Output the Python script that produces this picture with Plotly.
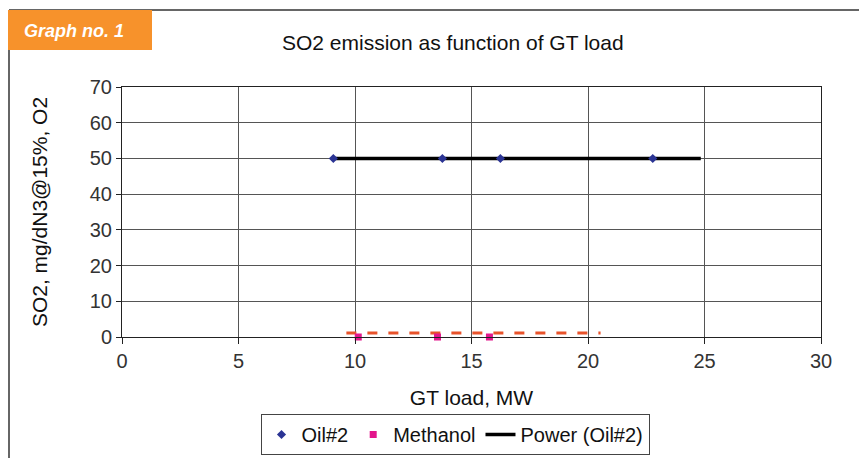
import plotly.graph_objects as go

# Data
oil_x = [9.07, 13.75, 16.24, 22.78]
oil_y = [50, 50, 50, 50]
meth_x = [10.14, 13.54, 15.77]
meth_y = [0, 0, 0]
power_x = [9.07, 24.84]
power_y = [50, 50]
meth_trend_x = [9.63, 20.54]
meth_trend_y = [1.1, 1.1]

x_ticks = [0, 5, 10, 15, 20, 25, 30]
y_ticks = [0, 10, 20, 30, 40, 50, 60, 70]

OFF = 8  # page body margin offset
W, H = 867 - OFF, 458 - OFF
FONT = "Liberation Sans, Arial, Helvetica, sans-serif"
FS = 20

fig = go.Figure()
fig.add_trace(go.Scatter(x=meth_trend_x, y=meth_trend_y, mode="lines",
                         line=dict(color="#e8532b", width=3, dash="10px,11px"),
                         showlegend=False, hoverinfo="skip"))
fig.add_trace(go.Scatter(x=power_x, y=power_y, mode="lines", name="Power (Oil#2)",
                         legendrank=3, line=dict(color="black", width=3.5)))
fig.add_trace(go.Scatter(x=oil_x, y=oil_y, mode="markers", name="Oil#2", legendrank=1,
                         marker=dict(symbol="diamond", color="#2b3494", size=7)))
fig.add_trace(go.Scatter(x=meth_x, y=meth_y, mode="markers", name="Methanol", legendrank=2,
                         cliponaxis=False,
                         marker=dict(symbol="square", color="#e3168c", size=7)))

def px(x):
    return (x - OFF) / W

def py(y):
    return 1 - (y - OFF) / H

fig.update_layout(
    width=W, height=H,
    margin=dict(l=0, r=0, t=0, b=0, autoexpand=False),
    paper_bgcolor="white", plot_bgcolor="white",
    font=dict(family=FONT, size=FS, color="#222"),
    showlegend=True,
    legend=dict(orientation="h", x=px(455), xanchor="center", y=py(455), yanchor="bottom",
                bordercolor="#444", borderwidth=1, font=dict(size=FS, color="#111"),
                itemwidth=30, tracegroupgap=0, bgcolor="white"),
    xaxis=dict(domain=[px(122), px(821)], range=[0, 30], tickvals=x_ticks,
               showgrid=True, gridcolor="#555", gridwidth=1,
               showline=True, linecolor="#222", linewidth=1, mirror=True,
               ticks="outside", ticklen=6, tickcolor="#222",
               zeroline=False, automargin=False, tickfont=dict(size=FS, color="#333"),
               title=dict(text="GT load, MW", font=dict(size=21, color="#111"), standoff=19)),
    yaxis=dict(domain=[py(337), py(87)], range=[0, 70], tickvals=y_ticks,
               showgrid=True, gridcolor="#555", gridwidth=1,
               showline=True, linecolor="#222", linewidth=1, mirror=True,
               ticks="outside", ticklen=5, tickcolor="#222",
               zeroline=False, automargin=False, tickfont=dict(size=FS, color="#333"),
               title=dict(text="SO2, mg/dN3@15%, O2", font=dict(size=21, color="#111"), standoff=36)),
    shapes=[
        dict(type="line", xref="paper", yref="paper", x0=px(9), x1=1, y0=py(10), y1=py(10),
             line=dict(color="#666", width=2)),
        dict(type="line", xref="paper", yref="paper", x0=px(9), x1=px(9), y0=py(10), y1=0,
             line=dict(color="#666", width=2)),
        dict(type="rect", xref="paper", yref="paper", x0=px(8), x1=px(152), y0=py(50), y1=py(10),
             fillcolor="#f7922b", line=dict(width=0)),
    ],
    annotations=[
        dict(text="<b><i>Graph no. 1</i></b>", xref="paper", yref="paper",
             x=px(22), y=py(31), xanchor="left", yanchor="middle", showarrow=False,
             font=dict(size=18, color="white", family=FONT)),
        dict(text="SO2 emission as function of GT load", xref="paper", yref="paper",
             x=px(453), y=py(43), xanchor="center", yanchor="middle", showarrow=False,
             font=dict(size=21, color="#111", family=FONT)),
    ],
)

fig.write_html("out.html")
